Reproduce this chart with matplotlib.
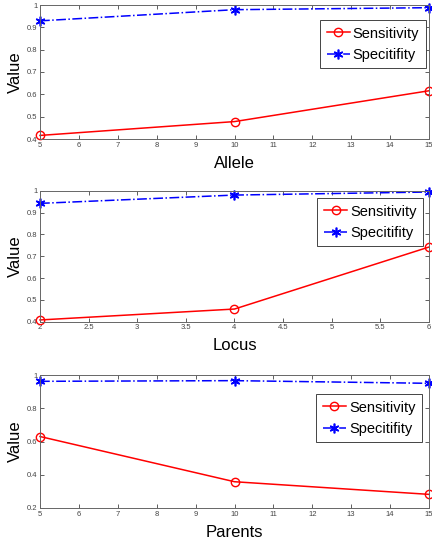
import matplotlib
matplotlib.use("Agg")
import matplotlib.pyplot as plt
import numpy as np

plt.rcParams['font.family'] = ['Liberation Sans', 'DejaVu Sans']

allele = [5, 10, 15]
allele_sens = [0.416, 0.478, 0.616]
allele_spec = [0.929, 0.979, 0.988]

locus = [2, 4, 6]
locus_sens = [0.408, 0.458, 0.742]
locus_spec = [0.942, 0.980, 0.994]

parents = [5, 10, 15]
parents_sens = [0.630, 0.358, 0.282]
parents_spec = [0.962, 0.966, 0.950]

xlabels = ["Allele", "Locus", "Parents"]

fig = plt.figure(figsize=(4.32, 5.43), dpi=100)
positions = [
    [40/432, 1-139/543, 389/432, 134/543],
    [40/432, 1-321.7/543, 389/432, 131/543],
    [40/432, 1-508/543, 389/432, 133/543],
]
legend_anchor = [(0.992, 0.888), (0.985, 0.944), (0.982, 0.857)]

panels = [
    (allele, allele_sens, allele_spec, (5, 15), np.arange(5, 16, 1), (0.4, 1), np.arange(0.4, 1.001, 0.1)),
    (locus, locus_sens, locus_spec, (2, 6), np.arange(2, 6.01, 0.5), (0.4, 1), np.arange(0.4, 1.001, 0.1)),
    (parents, parents_sens, parents_spec, (5, 15), np.arange(5, 16, 1), (0.2, 1), np.arange(0.2, 1.001, 0.2)),
]

def fmt(v):
    s = f"{v:.1f}"
    if s.endswith(".0"):
        s = s[:-2]
    return s

for pos, (x, sens, spec, xl, xt, yl, yt), lab, anc in zip(positions, panels, xlabels, legend_anchor):
    ax = fig.add_axes(pos)
    ax.plot(x, sens, color="red", marker="o", markerfacecolor="none",
            markersize=6, markeredgewidth=1.0, linewidth=1.1, label="Sensitivity", clip_on=False)
    ax.plot(x, spec, color="blue", marker=(6, 2, 0), linestyle="-.",
            markersize=7, markeredgewidth=1.2, linewidth=1.1, label="Specitifity", clip_on=False)
    ax.set_xlim(*xl)
    ax.set_ylim(*yl)
    ax.set_xticks(xt)
    ax.set_xticklabels([fmt(v) for v in xt])
    ax.set_yticks(yt)
    ax.set_yticklabels([fmt(v) for v in yt])
    ax.tick_params(direction="in", top=True, right=True, labelsize=5.5,
                   colors="#444444", length=3, width=0.6, pad=2)
    for sp in ax.spines.values():
        sp.set_color("#666666")
        sp.set_linewidth(0.7)
    ax.set_xlabel(lab, fontsize=12, labelpad=5)
    ax.set_ylabel("Value", fontsize=12, labelpad=3)
    leg = ax.legend(loc="upper right", fontsize=10.5, fancybox=False,
                    framealpha=1, edgecolor="#444444", borderpad=0.45,
                    handlelength=1.6, handletextpad=0.2, labelspacing=0.5,
                    borderaxespad=0, bbox_to_anchor=anc)
    leg.get_frame().set_linewidth(0.7)

fig.savefig("out.png", dpi=100)
